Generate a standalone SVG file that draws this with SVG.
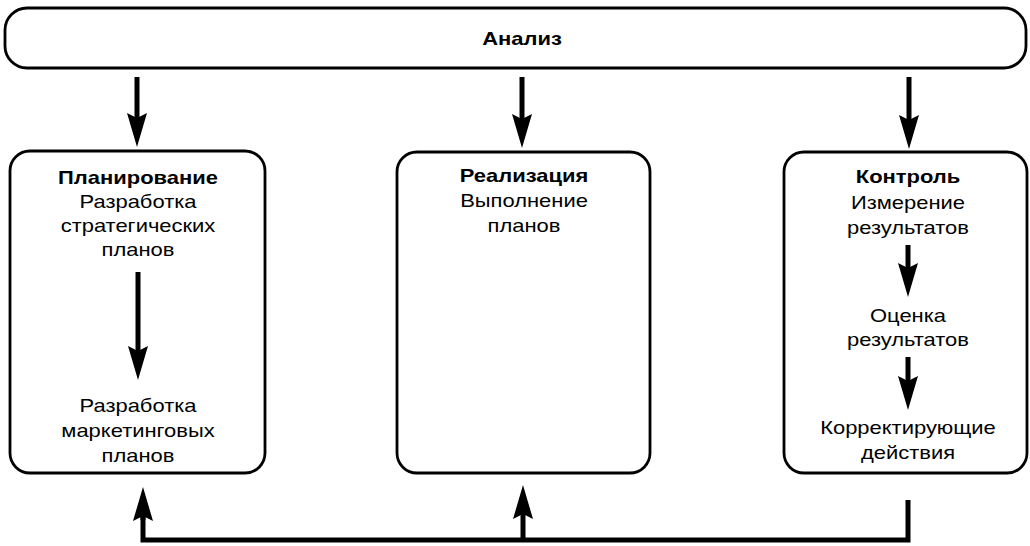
<svg xmlns="http://www.w3.org/2000/svg" width="1030" height="546" viewBox="0 0 1030 546">
  <defs>
    <marker id="head" markerUnits="userSpaceOnUse" viewBox="0 0 34 20" markerWidth="34" markerHeight="20" refX="12" refY="10" orient="auto">
      <path d="M0,0 L34,10 L0,20 L5,10 Z" fill="#000"/>
    </marker>
  </defs>
  <style>
    .box { fill: #fff; stroke: #000; stroke-width: 2.8; }
    .t { font-family: "Liberation Sans", Arial, sans-serif; font-size: 18px; fill: #000; text-anchor: middle; }
    .b { font-weight: bold; }
    .arrow { fill: none; stroke: #000; stroke-width: 5; marker-end: url(#head); }
    .line { fill: none; stroke: #000; stroke-width: 5; stroke-linejoin: miter; }
  </style>
  <rect width="1030" height="546" fill="#fff"/>

  <!-- Analysis bar -->
  <g id="analysis">
    <rect class="box" x="5" y="8" width="1021" height="60" rx="22" ry="22"/>
    <g transform="translate(522 0) scale(1.22 1)">
      <text class="t b" x="0" y="45">Анализ</text>
    </g>
  </g>

  <!-- Planning -->
  <g id="planning">
    <rect class="box" x="10" y="151" width="255" height="322" rx="20" ry="20"/>
    <g transform="translate(138 0) scale(1.22 1)">
      <text class="t b" x="0" y="184">Планирование</text>
      <text class="t" x="0" y="208">Разработка</text>
      <text class="t" x="0" y="232">стратегических</text>
      <text class="t" x="0" y="256">планов</text>
      <text class="t" x="0" y="412">Разработка</text>
      <text class="t" x="0" y="437">маркетинговых</text>
      <text class="t" x="0" y="462">планов</text>
    </g>
  </g>

  <!-- Implementation -->
  <g id="implementation">
    <rect class="box" x="397" y="152" width="253" height="321" rx="20" ry="20"/>
    <g transform="translate(524 0) scale(1.22 1)">
      <text class="t b" x="0" y="182">Реализация</text>
      <text class="t" x="0" y="207">Выполнение</text>
      <text class="t" x="0" y="232">планов</text>
    </g>
  </g>

  <!-- Control -->
  <g id="control">
    <rect class="box" x="784" y="152" width="243" height="321" rx="20" ry="20"/>
    <g transform="translate(908 0) scale(1.22 1)">
      <text class="t b" x="0" y="183">Контроль</text>
      <text class="t" x="0" y="209">Измерение</text>
      <text class="t" x="0" y="234">результатов</text>
      <text class="t" x="0" y="322">Оценка</text>
      <text class="t" x="0" y="346">результатов</text>
      <text class="t" x="0" y="434">Корректирующие</text>
      <text class="t" x="0" y="459">действия</text>
    </g>
  </g>

  <!-- Connectors -->
  <g id="connectors">
    <line class="arrow" x1="137" y1="77" x2="137" y2="125"/>
    <line class="arrow" x1="522" y1="77" x2="522" y2="126"/>
    <line class="arrow" x1="909" y1="77" x2="909" y2="127"/>
    <line class="arrow" x1="138" y1="272" x2="138" y2="358"/>
    <line class="arrow" x1="908" y1="245" x2="908" y2="275"/>
    <line class="arrow" x1="908" y1="357" x2="908" y2="388"/>
    <path class="line" d="M908,500 V540 H143 V508"/>
    <line class="arrow" x1="143" y1="520" x2="143" y2="509"/>
    <line class="arrow" x1="523" y1="540" x2="523" y2="507"/>
  </g>
</svg>
